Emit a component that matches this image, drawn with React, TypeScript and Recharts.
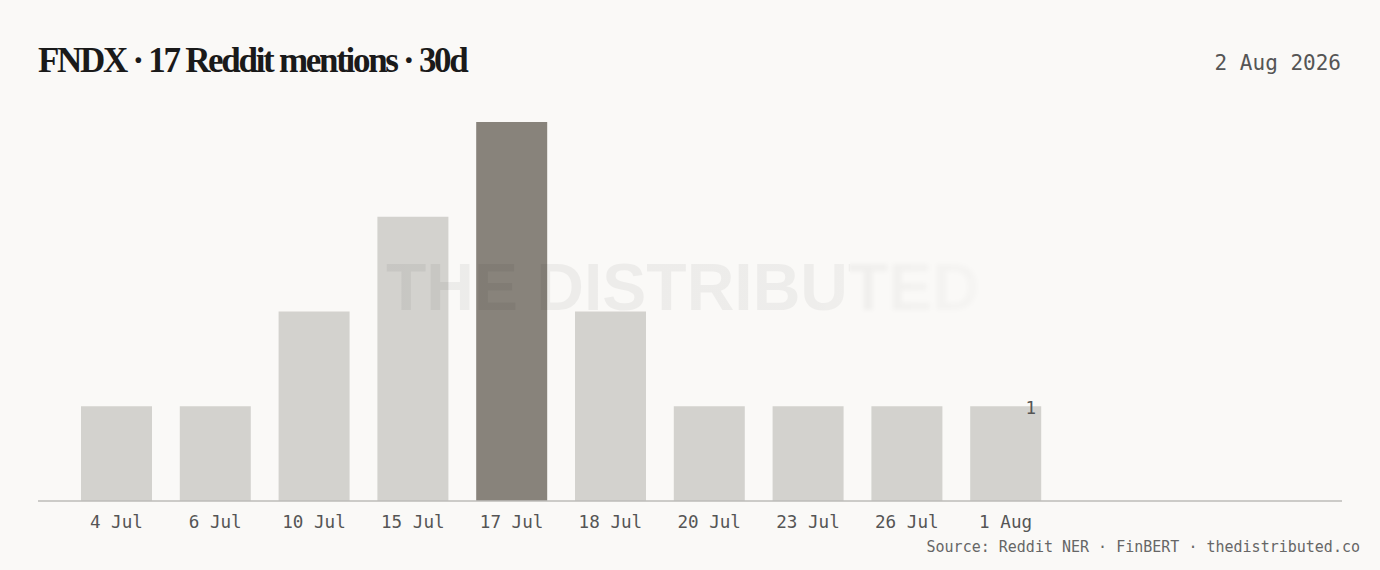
import { BarChart, Bar, XAxis, YAxis, Cell, LabelList } from 'recharts'

const W = 1380
const H = 570

const dates = ['4 Jul', '6 Jul', '10 Jul', '15 Jul', '17 Jul', '18 Jul', '20 Jul', '23 Jul', '26 Jul', '1 Aug']
const mentions = [1, 1, 2, 3, 4, 2, 1, 1, 1, 1]

const TITLE = 'FNDX · 17 Reddit mentions · 30d'
const DATE_LABEL = '2 Aug 2026'
const SOURCE = 'Source: Reddit NER · FinBERT · thedistributed.co'
const WATERMARK = 'THE DISTRIBUTED'

const BG = '#faf9f7'
const BAR = '#d3d2ce'
const BAR_PEAK = '#88837b'
const MONO = '"DejaVu Sans Mono", "Liberation Mono", monospace'

const data = dates.map((d, i) => ({ date: d, count: mentions[i] }))
const peak = Math.max(...mentions)
const lastIndex = data.length - 1

function DateTick(props: any) {
  const { x, y, payload } = props
  return (
    <text x={x} y={y + 25} textAnchor="middle" fontFamily={MONO} fontSize={17.6} fill="#555">
      {payload.value}
    </text>
  )
}

function LastLabel(props: any) {
  const { x, y, width, value, index } = props
  if (index !== lastIndex) return null
  return (
    <text x={x + width - 5} y={y + 8} textAnchor="end" fontFamily={MONO} fontSize={17.6} fill="#555">
      {value}
    </text>
  )
}

export default function App() {
  return (
    <div style={{ position: 'absolute', left: 0, top: 0, width: W, height: H, background: BG, overflow: 'hidden' }}>
      <BarChart width={W} height={H} data={data} margin={{ top: 122, right: 38, bottom: 39, left: 38 }}>
        <YAxis hide domain={[0, 4]} />
        <XAxis
          dataKey="date"
          height={30}
          tickSize={0}
          tickLine={false}
          axisLine={{ stroke: '#bcbbb8', strokeWidth: 1.5 }}
          padding={{ left: 29, right: 287 }}
          tick={<DateTick />}
          interval={0}
        />
        <Bar dataKey="count" barSize={71} isAnimationActive={false}>
          {data.map((d) => (
            <Cell key={d.date} fill={d.count === peak ? BAR_PEAK : BAR} />
          ))}
          <LabelList dataKey="count" content={<LastLabel />} />
        </Bar>
      </BarChart>
      <svg width={W} height={H} style={{ position: 'absolute', left: 0, top: 0, pointerEvents: 'none' }}>
        <defs>
          <linearGradient id="wmFade" x1="385" x2="985" y1="0" y2="0" gradientUnits="userSpaceOnUse">
            <stop offset="0" stopColor="#000" stopOpacity={0.055} />
            <stop offset="0.7" stopColor="#000" stopOpacity={0.05} />
            <stop offset="1" stopColor="#000" stopOpacity={0.015} />
          </linearGradient>
          <filter id="wmBlur" x="-5%" y="-20%" width="110%" height="140%">
            <feGaussianBlur stdDeviation="2" />
          </filter>
          <clipPath id="wmLeft">
            <rect x={0} y={0} width={850} height={H} />
          </clipPath>
          <clipPath id="wmRight">
            <rect x={850} y={0} width={W} height={H} />
          </clipPath>
        </defs>
        <text
          x={683}
          y={310}
          textAnchor="middle"
          fontFamily='"Liberation Sans", Arial, sans-serif'
          fontWeight={700}
          fontSize={66}
          fill="url(#wmFade)"
          clipPath="url(#wmLeft)"
        >
          {WATERMARK}
        </text>
        <g clipPath="url(#wmRight)">
          <text
            x={683}
            y={310}
            textAnchor="middle"
            fontFamily='"Liberation Sans", Arial, sans-serif'
            fontWeight={700}
            fontSize={66}
            fill="url(#wmFade)"
            filter="url(#wmBlur)"
          >
            {WATERMARK}
          </text>
        </g>
        <text
          x={38}
          y={72}
          fontFamily='"Liberation Serif", "DejaVu Serif", serif'
          fontWeight={700}
          fontSize={35}
          letterSpacing={-2.3}
          fill="#1a1a1a"
        >
          {TITLE}
        </text>
        <text x={1341} y={70} textAnchor="end" fontFamily={MONO} fontSize={21} fill="#555">
          {DATE_LABEL}
        </text>
        <text x={1360} y={552} textAnchor="end" fontFamily={MONO} fontSize={15} fill="#666">
          {SOURCE}
        </text>
      </svg>
    </div>
  )
}
